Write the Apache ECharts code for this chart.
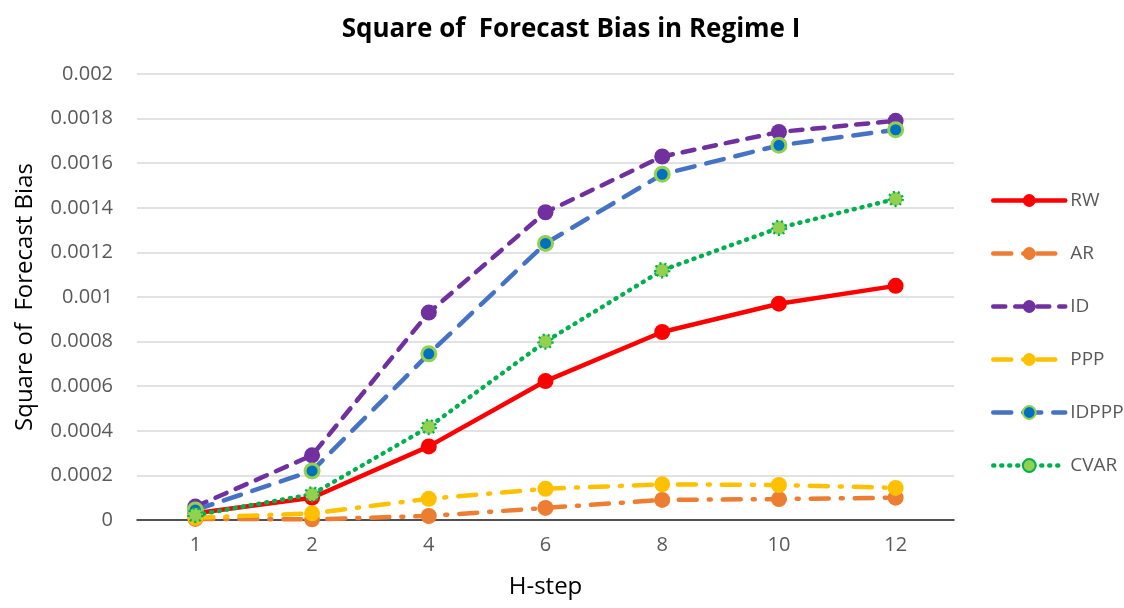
<!DOCTYPE html>
<html><head><meta charset="utf-8">
<script src="https://cdn.jsdelivr.net/npm/echarts@6/dist/echarts.min.js"></script>
<style>html,body{margin:0;padding:0;background:#fff}#c{width:1124px;height:608px}</style>
</head><body><div id="c"></div>
<script>
const categories = ['1','2','4','6','8','10','12'];
const yTicks = [0,0.0002,0.0004,0.0006,0.0008,0.001,0.0012,0.0014,0.0016,0.0018,0.002];
const RW    = [0.00003, 0.0001, 0.00033, 0.000623, 0.000843, 0.00097, 0.00105];
const AR    = [0.000005, 0.000003, 0.000018, 0.000054, 0.00009, 0.000094, 0.0001];
const ID    = [0.00006, 0.00029, 0.00093, 0.00138, 0.00163, 0.00174, 0.00179];
const PPP   = [0.00001, 0.00003, 0.000095, 0.00014, 0.00016, 0.000157, 0.000144];
const IDPPP = [0.000045, 0.00022, 0.000745, 0.00124, 0.00155, 0.00168, 0.00175];
const CVAR  = [0.000022, 0.000115, 0.000417, 0.0008, 0.00112, 0.00131, 0.00144];

const font = 'Open Sans, Liberation Sans, sans-serif';
function ser(name, data, color, type, marker) {
  return Object.assign({
    name, type: 'line', data,
    symbol: 'circle', symbolSize: 16,
    lineStyle: {color, width: 4.5, type, cap: 'round'},
    itemStyle: {color},
    z: 2
  }, marker || {});
}
const chart = echarts.init(document.getElementById('c'));
chart.setOption({
  animation: false,
  title: {text: 'Square of  Forecast Bias in Regime I', left: 566, textAlign: 'center', top: 12,
    textStyle: {fontFamily: font, fontWeight: 'bold', fontSize: 26, color: '#000'}},
  grid: {left: 137, right: 170, top: 74, bottom: 88},
  legend: {orient: 'vertical', left: 986, top: 186, itemGap: 34, itemWidth: 72, itemHeight: 16,
    lineStyle: {width: 4.5},
    textStyle: {fontFamily: font, fontSize: 19, color: '#595959'},
    data: ['RW','AR','ID','PPP','IDPPP','CVAR']},
  xAxis: {type: 'category', data: categories, boundaryGap: true,
    name: 'H-step', nameLocation: 'middle', nameGap: 55,
    nameTextStyle: {fontFamily: font, fontSize: 24, color: '#000'},
    axisLine: {lineStyle: {color: '#222', width: 1.5}},
    axisTick: {show: false},
    axisLabel: {fontFamily: font, fontSize: 20, color: '#595959', margin: 15}},
  yAxis: {type: 'value', min: 0, max: 0.002, interval: 0.0002,
    name: 'Square of  Forecast Bias', nameLocation: 'middle', nameGap: 100, nameRotate: 90,
    nameTextStyle: {fontFamily: font, fontSize: 24, color: '#000'},
    axisLine: {show: false}, axisTick: {show: false},
    splitLine: {lineStyle: {color: '#D9D9D9', width: 1.5}},
    axisLabel: {fontFamily: font, fontSize: 20, color: '#595959', margin: 24,
      formatter: v => { const t = yTicks.find(x => Math.abs(x - v) < 1e-9); return String(t === undefined ? v : t); }}},
  series: [
    ser('RW', RW, '#FF0000', 'solid'),
    ser('AR', AR, '#ED7D31', [18, 12, 2, 12]),
    ser('ID', ID, '#7030A0', [12, 10]),
    ser('PPP', PPP, '#FFC000', [18, 12, 2, 12]),
    ser('IDPPP', IDPPP, '#4472C4', [18, 12], {itemStyle: {color: '#0070C0', borderColor: '#92D050', borderWidth: 3}, symbolSize: 14}),
    ser('CVAR', CVAR, '#00B050', [1, 7], {itemStyle: {color: '#92D050', borderColor: '#00B050', borderWidth: 2.5, borderType: [2, 3]}, symbolSize: 14})
  ]
});
</script></body></html>
